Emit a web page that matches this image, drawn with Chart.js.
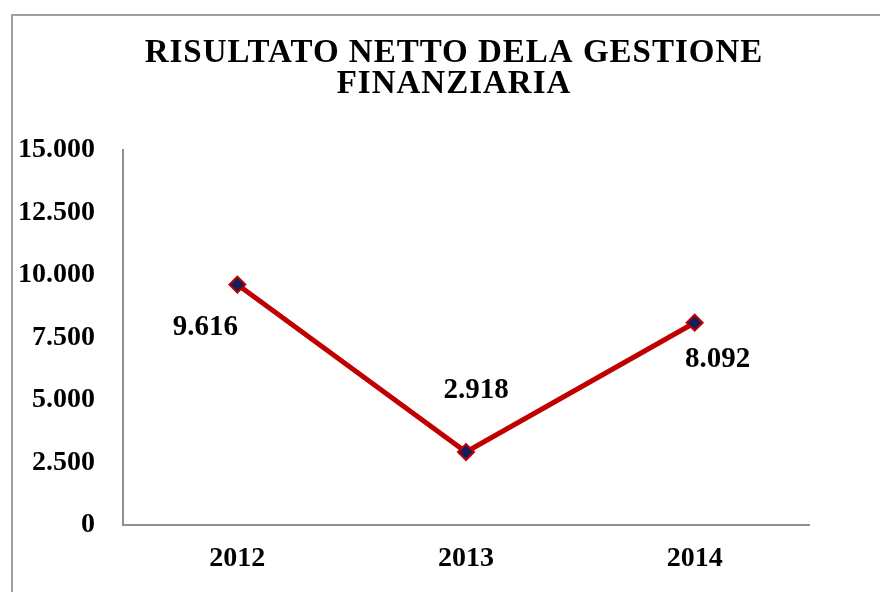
<!DOCTYPE html>
<html>
<head>
<meta charset="utf-8">
<script src="https://cdn.jsdelivr.net/npm/chart.js@4"></script>
<style>
  html, body { margin: 0; padding: 0; background: #fff; overflow: hidden; }
  #wrap { position: relative; width: 880px; height: 592px; }
  #frame { position: absolute; left: 11px; top: 14px; width: 900px; height: 620px; border-left: 2px solid #a0a0a0; border-top: 2px solid #a0a0a0; }
  canvas { position: absolute; left: 0; top: 0; }
</style>
</head>
<body>
<div id="wrap">
  <div id="frame"></div>
  <canvas id="myChart" width="880" height="592"></canvas>
</div>
<script>
'use strict'
const years = ['2012', '2013', '2014'];
const risultato = [9616, 2918, 8092];
const titleLines = ['RISULTATO NETTO DELA GESTIONE', 'FINANZIARIA'];
const yMax = 15000;
const yStep = 2500;

// label offsets from the point (dx, dy)
const labelShift = [[-32, 43], [10, -62], [23, 37]];

function fmt(v) {
    return String(v).replace(/\B(?=(\d{3})+(?!\d))/g, '.');
}

const serif = "'Liberation Serif', 'Times New Roman', serif";

// title is drawn by hand, it sits a bit right of the canvas middle
const chartTitle = {
    id: 'chartTitle',
    afterDraw(chart) {
        const ctx = chart.ctx;
        ctx.save();
        ctx.font = 'bold 33px ' + serif;
        ctx.letterSpacing = '1px';
        ctx.fillStyle = '#000';
        ctx.textAlign = 'center';
        ctx.textBaseline = 'middle';
        titleLines.forEach(function (t, i) {
            ctx.fillText(t, 454, 53 + i * 31);
        });
        ctx.restore();
    }
};

const pointLabels = {
    id: 'pointLabels',
    afterDatasetsDraw(chart) {
        const ctx = chart.ctx;
        const meta = chart.getDatasetMeta(0);
        ctx.save();
        ctx.font = 'bold 29px ' + serif;
        ctx.fillStyle = '#000';
        ctx.textAlign = 'center';
        ctx.textBaseline = 'middle';
        meta.data.forEach(function (pt, i) {
            ctx.fillText(fmt(risultato[i]), pt.x + labelShift[i][0], pt.y + labelShift[i][1]);
        });
        ctx.restore();
    }
};

const ctx = document.getElementById('myChart');
new Chart(ctx, {
    type: 'line',
    data: {
        labels: years,
        datasets: [{
            data: risultato,
            borderColor: '#c00000',
            borderWidth: 5,
            pointStyle: 'rectRot',
            pointRadius: 8,
            pointBackgroundColor: '#10205a',
            pointBorderColor: '#c00000',
            pointBorderWidth: 2,
            tension: 0
        }]
    },
    options: {
        responsive: false,
        animation: false,
        layout: { padding: { left: 0, right: 71, top: 150, bottom: 0 } },
        plugins: {
            legend: { display: false },
            tooltip: { enabled: false },
            title: { display: false }
        },
        scales: {
            x: {
                offset: true,
                grid: { display: false },
                border: { display: true, color: '#909090', width: 2 },
                ticks: { color: '#000', padding: 9, font: { family: serif, size: 28, weight: 'bold' } },
                afterFit: function (s) { s.height = 67; }
            },
            y: {
                min: 0,
                max: yMax,
                grid: { display: false },
                border: { display: true, color: '#909090', width: 2 },
                ticks: {
                    stepSize: yStep,
                    color: '#000',
                    padding: 20,
                    font: { family: serif, size: 28, weight: 'bold' },
                    callback: function (v) { return fmt(v); }
                },
                afterFit: function (s) { s.width = 123; }
            }
        }
    },
    plugins: [pointLabels, chartTitle]
});
</script>
</body>
</html>
